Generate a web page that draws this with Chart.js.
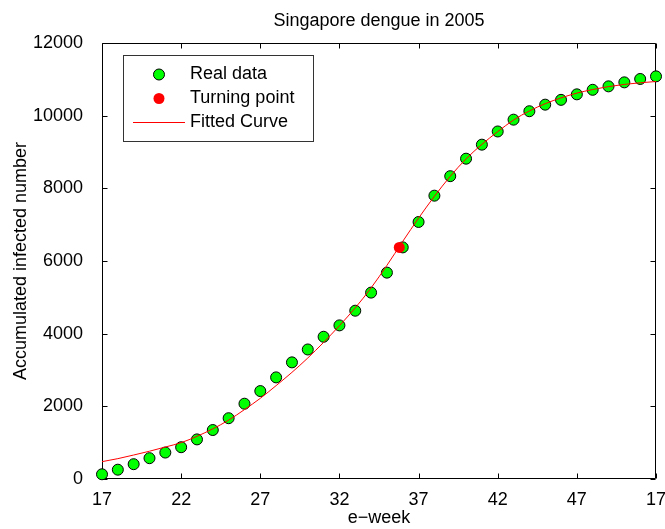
<!DOCTYPE html>
<html>
<head>
<meta charset="utf-8">
<script src="https://cdn.jsdelivr.net/npm/chart.js@4.4.1/dist/chart.umd.min.js"></script>
<style>
    html, body { margin: 0; padding: 0; background: #fff; }
</style>
</head>
<body>
<canvas id="chart" width="665" height="529"></canvas>
<script>
// e-week numbers (the last tick is week 52, shown as "17" in the original)
const weeks = [17, 18, 19, 20, 21, 22, 23, 24, 25, 26, 27, 28, 29, 30, 31, 32, 33, 34,
               35, 36, 37, 38, 39, 40, 41, 42, 43, 44, 45, 46, 47, 48, 49, 50, 51, 52];
const realData = [130, 256, 408, 573, 728, 875, 1090, 1348, 1673, 2072, 2420, 2797, 3210, 3565, 3915, 4228, 4632, 5130,
                  5680, 6375, 7074, 7798, 8335, 8816, 9202, 9565, 9890, 10122, 10303, 10435, 10587, 10712, 10807, 10917, 11010, 11082];
const fittedCurve = [477, 560, 660, 765, 880, 1000, 1175, 1380, 1620, 1910, 2220, 2570, 2935, 3330, 3760, 4220, 4710, 5260,
                     5880, 6540, 7180, 7780, 8330, 8810, 9210, 9560, 9880, 10130, 10330, 10490, 10620, 10720, 10800, 10860, 10905, 10940];
const turningWeek = [35.78];
const turningValue = [6375];
const xTicks = [17, 22, 27, 32, 37, 42, 47, 52];
const xTickLabels = ['17', '22', '27', '32', '37', '42', '47', '17'];
const yTicks = [0, 2000, 4000, 6000, 8000, 10000, 12000];

const FONT = "'Liberation Sans', Arial, Helvetica, sans-serif";

function toPoints(xs, ys) {
    return xs.map((x, i) => ({ x: x, y: ys[i] }));
}

// frame with inward ticks on all four sides, like the matlab box
const boxPlugin = {
    id: 'box',
    beforeDatasetsDraw(chart) {
        const { ctx, chartArea: a, scales: { x, y } } = chart;
        const L = Math.round(a.left) + 0.5, R = Math.round(a.right) - 0.5;
        const T = Math.round(a.top) + 0.5, B = Math.round(a.bottom) - 0.5;
        ctx.save();
        ctx.strokeStyle = '#000';
        ctx.lineWidth = 1;
        ctx.beginPath();
        ctx.rect(L, T, R - L, B - T);
        xTicks.forEach(v => {
            const px = Math.round(x.getPixelForValue(v)) + 0.5;
            ctx.moveTo(px, B); ctx.lineTo(px, B - 5);
            ctx.moveTo(px, T); ctx.lineTo(px, T + 5);
        });
        yTicks.forEach(v => {
            const py = Math.round(y.getPixelForValue(v)) + 0.5;
            ctx.moveTo(L, py); ctx.lineTo(L + 5, py);
            ctx.moveTo(R, py); ctx.lineTo(R - 5, py);
        });
        ctx.stroke();
        ctx.restore();
    },
    afterDraw(chart) {
        const { ctx, chartArea: a } = chart;
        ctx.save();
        // title
        ctx.fillStyle = '#000';
        ctx.font = '18px ' + FONT;
        ctx.textAlign = 'center';
        ctx.textBaseline = 'alphabetic';
        ctx.fillText('Singapore dengue in 2005', (a.left + a.right) / 2, 26);

        // legend box
        ctx.fillStyle = '#fff';
        ctx.fillRect(123, 55, 190, 87);
        ctx.strokeStyle = '#333';
        ctx.lineWidth = 1;
        ctx.strokeRect(123.5, 55.5, 190, 86);

        const rows = [74.5, 98.5, 122.5];
        ctx.beginPath();
        ctx.arc(159, rows[0], 5.5, 0, Math.PI * 2);
        ctx.fillStyle = '#00ff00';
        ctx.fill();
        ctx.strokeStyle = '#000';
        ctx.stroke();

        ctx.beginPath();
        ctx.arc(159, rows[1], 5.5, 0, Math.PI * 2);
        ctx.fillStyle = '#ff0000';
        ctx.fill();

        ctx.beginPath();
        ctx.moveTo(133, rows[2]); ctx.lineTo(185, rows[2]);
        ctx.strokeStyle = '#ff0000';
        ctx.stroke();

        ctx.fillStyle = '#000';
        ctx.textAlign = 'left';
        ctx.textBaseline = 'middle';
        ctx.fillText('Real data', 190, rows[0]);
        ctx.fillText('Turning point', 190, rows[1]);
        ctx.fillText('Fitted Curve', 190, rows[2]);
        ctx.restore();
    }
};

const ctx = document.getElementById('chart').getContext('2d');
new Chart(ctx, {
    type: 'scatter',
    data: {
        datasets: [
            {
                label: 'Turning point',
                data: toPoints(turningWeek, turningValue),
                pointRadius: 5.5,
                pointBackgroundColor: '#ff0000',
                pointBorderWidth: 0,
                clip: false,
                order: 0
            },
            {
                label: 'Fitted Curve',
                data: toPoints(weeks, fittedCurve),
                showLine: true,
                pointRadius: 0,
                borderColor: '#ff0000',
                borderWidth: 1,
                cubicInterpolationMode: 'monotone',
                clip: false,
                order: 1
            },
            {
                label: 'Real data',
                data: toPoints(weeks, realData),
                pointRadius: 5.5,
                pointBackgroundColor: '#00ff00',
                pointBorderColor: '#000',
                pointBorderWidth: 1,
                clip: false,
                order: 2
            }
        ]
    },
    options: {
        responsive: false,
        animation: false,
        devicePixelRatio: 1,
        layout: { padding: { top: 43, right: 9, left: 0, bottom: 0 } },
        plugins: {
            legend: { display: false },
            title: { display: false },
            tooltip: { enabled: false }
        },
        scales: {
            x: {
                type: 'linear',
                min: 17,
                max: 52,
                grid: { display: false },
                border: { display: false },
                afterBuildTicks: scale => { scale.ticks = xTicks.map(v => ({ value: v })); },
                afterFit: scale => { scale.height = 50; scale.paddingLeft = 0; scale.paddingRight = 0; },
                ticks: {
                    color: '#000',
                    font: { family: FONT, size: 18 },
                    padding: 2,
                    maxRotation: 0,
                    autoSkip: false,
                    callback: (value, index) => xTickLabels[index]
                },
                title: {
                    display: true,
                    text: 'e\u2212week',
                    color: '#000',
                    font: { family: FONT, size: 18 },
                    padding: { top: 0, bottom: 0 }
                }
            },
            y: {
                min: 0,
                max: 12000,
                grid: { display: false },
                border: { display: false },
                afterBuildTicks: scale => { scale.ticks = yTicks.map(v => ({ value: v })); },
                afterFit: scale => { scale.width = 102; scale.paddingTop = 0; scale.paddingBottom = 0; },
                ticks: {
                    color: '#000',
                    font: { family: FONT, size: 18 },
                    padding: 11,
                    callback: value => String(value)
                },
                title: {
                    display: true,
                    text: 'Accumulated infected number',
                    color: '#000',
                    font: { family: FONT, size: 18 },
                    padding: { top: 10, bottom: 0 }
                }
            }
        }
    },
    plugins: [boxPlugin]
});
</script>
</body>
</html>
